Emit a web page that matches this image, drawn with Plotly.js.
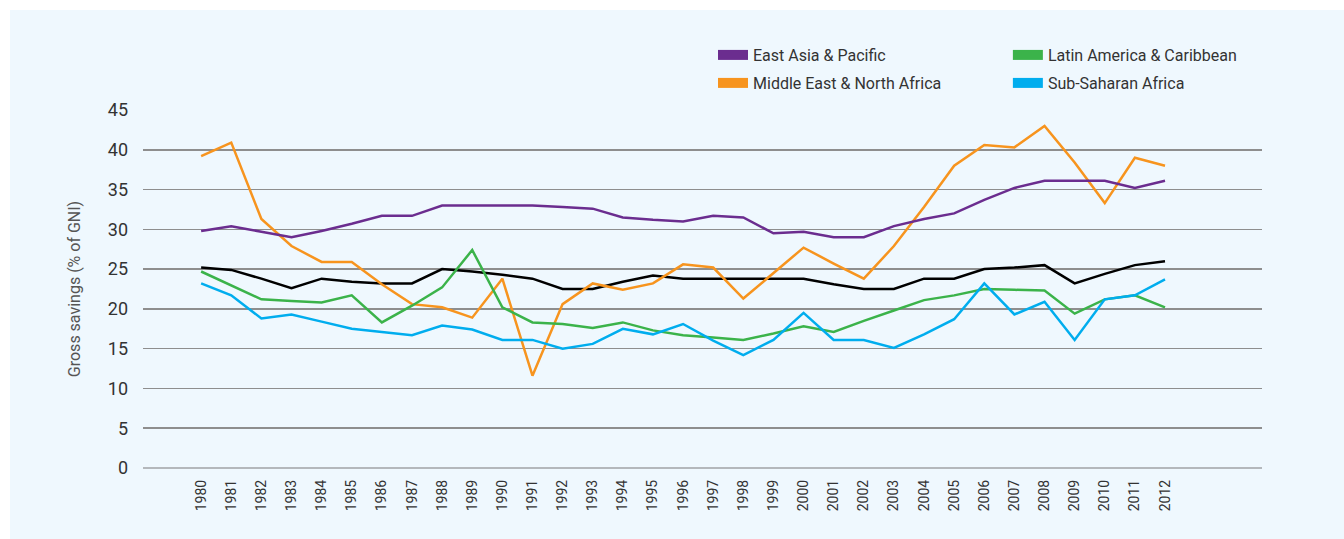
<!DOCTYPE html>
<html>
<head>
<meta charset="utf-8">
<script src="https://cdn.plot.ly/plotly-3.0.1.min.js"></script>
<style>
  html, body { margin: 0; padding: 0; background: #ffffff; }
  #chart { position: absolute; left: 10px; top: 10px; width: 1334px; height: 529px; }
</style>
</head>
<body>
<div id="chart"></div>
<script>
var years = [1980,1981,1982,1983,1984,1985,1986,1987,1988,1989,1990,1991,1992,1993,1994,1995,1996,1997,1998,1999,2000,2001,2002,2003,2004,2005,2006,2007,2008,2009,2010,2011,2012];
var yearLabels = years.map(String);

var eastAsiaPacific = [29.8,30.4,29.7,29.0,29.8,30.7,31.7,31.7,33.0,33.0,33.0,33.0,32.8,32.6,31.5,31.2,31.0,31.7,31.5,29.5,29.7,29.0,29.0,30.4,31.3,32.0,33.7,35.2,36.1,36.1,36.1,35.2,36.1];
var middleEastNorthAfrica = [39.2,40.9,31.3,27.9,25.9,25.9,23.1,20.6,20.2,18.9,23.8,11.6,20.6,23.2,22.4,23.2,25.6,25.2,21.3,24.5,27.7,25.7,23.8,27.9,32.8,38.0,40.6,40.3,43.0,38.4,33.3,39.0,38.0];
var latinAmericaCaribbean = [24.7,22.9,21.2,21.0,20.8,21.7,18.3,20.4,22.7,27.4,20.2,18.3,18.1,17.6,18.3,17.3,16.7,16.4,16.1,16.9,17.8,17.1,18.5,19.8,21.1,21.7,22.5,22.4,22.3,19.4,21.2,21.7,20.2];
var subSaharanAfrica = [23.2,21.7,18.8,19.3,18.4,17.5,17.1,16.7,17.9,17.4,16.1,16.1,15.0,15.6,17.5,16.8,18.1,16.0,14.2,16.1,19.5,16.1,16.1,15.1,16.8,18.7,23.2,19.3,20.9,16.1,21.2,21.7,23.7];
var world = [25.2,24.9,23.8,22.6,23.8,23.4,23.2,23.2,25.0,24.7,24.3,23.8,22.5,22.5,23.4,24.2,23.8,23.8,23.8,23.8,23.8,23.1,22.5,22.5,23.8,23.8,25.0,25.2,25.5,23.2,24.4,25.5,26.0];

var yTicks = [0,5,10,15,20,25,30,35,40,45];

var seriesNames = ['East Asia & Pacific','Latin America & Caribbean','Middle East & North Africa','Sub-Saharan Africa'];
var seriesColors = ['#6b2d8f','#3bb34a','#f7941e','#00adee'];
var seriesData = [eastAsiaPacific, latinAmericaCaribbean, middleEastNorthAfrica, subSaharanAfrica];
var legendIds = ['legend','legend2','legend3','legend4'];

var traces = [];
traces.push({x: years, y: world, type: 'scatter', mode: 'lines', name: 'World',
  line: {color: '#000000', width: 2.5}, showlegend: false});
var drawOrder = [2, 0, 1, 3];
drawOrder.forEach(function(i){
  traces.push({x: years, y: seriesData[i], type: 'scatter', mode: 'lines', name: seriesNames[i],
    line: {color: seriesColors[i], width: 2.5}, showlegend: false});
});
seriesNames.forEach(function(n, i){
  traces.push({x: [null], y: [null], type: 'scatter', mode: 'lines', name: n,
    line: {color: seriesColors[i], width: 10}, showlegend: true, legend: legendIds[i], hoverinfo: 'skip'});
});

var fontFam = 'Roboto, "DejaVu Sans", sans-serif';
function legendAt(x, y) {
  return {x: x, y: y, xanchor: 'left', yanchor: 'middle',
    bgcolor: 'rgba(0,0,0,0)', borderwidth: 0, font: {family: fontFam, size: 16, color: '#333333'}};
}

var layout = {
  width: 1334, height: 529,
  paper_bgcolor: '#eff8fe', plot_bgcolor: '#eff8fe',
  margin: {l: 133, r: 82, t: 100, b: 71},
  font: {family: fontFam, color: '#333333'},
  xaxis: {
    range: [1978.07, 2015.22], tickmode: 'array', tickvals: years, ticktext: yearLabels,
    tickangle: -90, showgrid: false, zeroline: false, showline: false, ticks: '',
    ticklabelstandoff: 8, tickfont: {family: fontFam, size: 14, color: '#333333'}, fixedrange: true
  },
  yaxis: {
    range: [0, 45], tickmode: 'array', tickvals: yTicks, ticktext: yTicks.map(String),
    showgrid: true, gridcolor: '#8e8e8e', gridwidth: 1.5,
    zeroline: true, zerolinecolor: '#b4b8bc', zerolinewidth: 2,
    showline: false, ticks: '', ticklabelstandoff: 14,
    tickfont: {family: fontFam, size: 18, color: '#333333'},
    title: {text: 'Gross savings (% of GNI)', font: {family: fontFam, size: 16, color: '#555555'}, standoff: 23},
    fixedrange: true
  },
  legend: legendAt(0.5094, 1.1536),
  legend2: legendAt(0.7729, 1.1536),
  legend3: legendAt(0.5094, 1.0754),
  legend4: legendAt(0.7729, 1.0754)
};

Plotly.newPlot('chart', traces, layout, {displayModeBar: false, staticPlot: true});
</script>
</body>
</html>
